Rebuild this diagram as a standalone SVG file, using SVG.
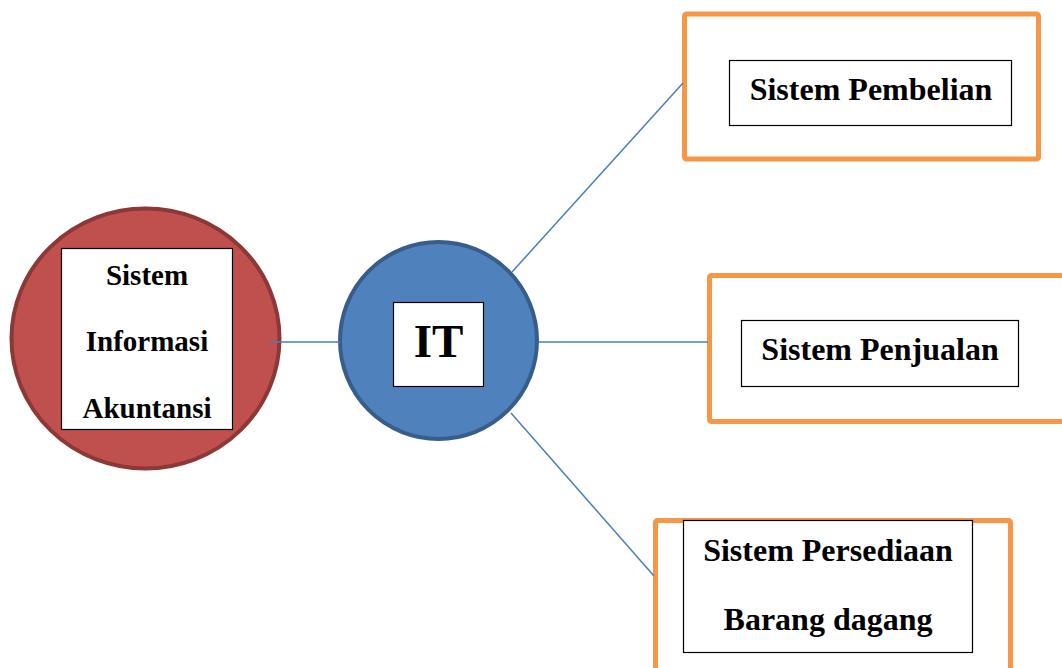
<svg xmlns="http://www.w3.org/2000/svg" width="1062" height="668" viewBox="0 0 1062 668">
  <style>
    .lbl { font-family: "Liberation Serif", "Times New Roman", serif; font-weight: bold; fill: #000; text-anchor: middle; }
    .box { fill: #fff; stroke: #000; stroke-width: 1.2; }
    .frame { fill: #fff; stroke: #f79646; stroke-width: 5; }
    .link { stroke: #4a7ebb; stroke-width: 1.5; fill: none; }
  </style>
  <rect width="1062" height="668" fill="#fff"/>

  <!-- Sistem Informasi Akuntansi -->
  <g id="node-sia">
    <ellipse cx="145.5" cy="338.5" rx="134" ry="130" fill="#c0504d" stroke="#8c3836" stroke-width="4"/>
    <rect class="box" x="61.5" y="248.5" width="171" height="181"/>
    <text class="lbl" x="147" y="285" font-size="29">Sistem</text>
    <text class="lbl" x="147" y="351" font-size="29">Informasi</text>
    <text class="lbl" x="147" y="418" font-size="29">Akuntansi</text>
  </g>

  <!-- IT -->
  <g id="node-it">
    <circle cx="438.5" cy="340.5" r="98.5" fill="#4f81bd" stroke="#385d8a" stroke-width="4"/>
    <rect class="box" x="393.5" y="302.5" width="90" height="84"/>
    <text class="lbl" x="438.5" y="357" font-size="47">IT</text>
  </g>

  <!-- Sistem Pembelian -->
  <g id="node-pembelian">
    <rect class="frame" x="684.5" y="14" width="354" height="145" rx="2"/>
    <rect class="box" x="729.5" y="60.5" width="282" height="65"/>
    <text class="lbl" x="871" y="100" font-size="32">Sistem Pembelian</text>
  </g>

  <!-- Sistem Penjualan -->
  <g id="node-penjualan">
    <rect class="frame" x="709.5" y="275.5" width="360" height="146" rx="2"/>
    <rect class="box" x="741.5" y="320.5" width="277" height="66"/>
    <text class="lbl" x="880" y="360" font-size="32">Sistem Penjualan</text>
  </g>

  <!-- Sistem Persediaan Barang dagang -->
  <g id="node-persediaan">
    <rect class="frame" x="655.5" y="520.5" width="355" height="160" rx="2"/>
    <rect class="box" x="683.5" y="520.5" width="289" height="132"/>
    <text class="lbl" x="828" y="561" font-size="32">Sistem Persediaan</text>
    <text class="lbl" x="828" y="630" font-size="32">Barang dagang</text>
  </g>

  <!-- connectors, drawn over the shapes -->
  <g id="connectors">
    <line class="link" x1="270" y1="342" x2="340" y2="342"/>
    <line class="link" x1="539" y1="342" x2="708" y2="342"/>
    <line class="link" x1="512" y1="272" x2="683" y2="83"/>
    <line class="link" x1="511" y1="413" x2="654" y2="576"/>
  </g>
</svg>
